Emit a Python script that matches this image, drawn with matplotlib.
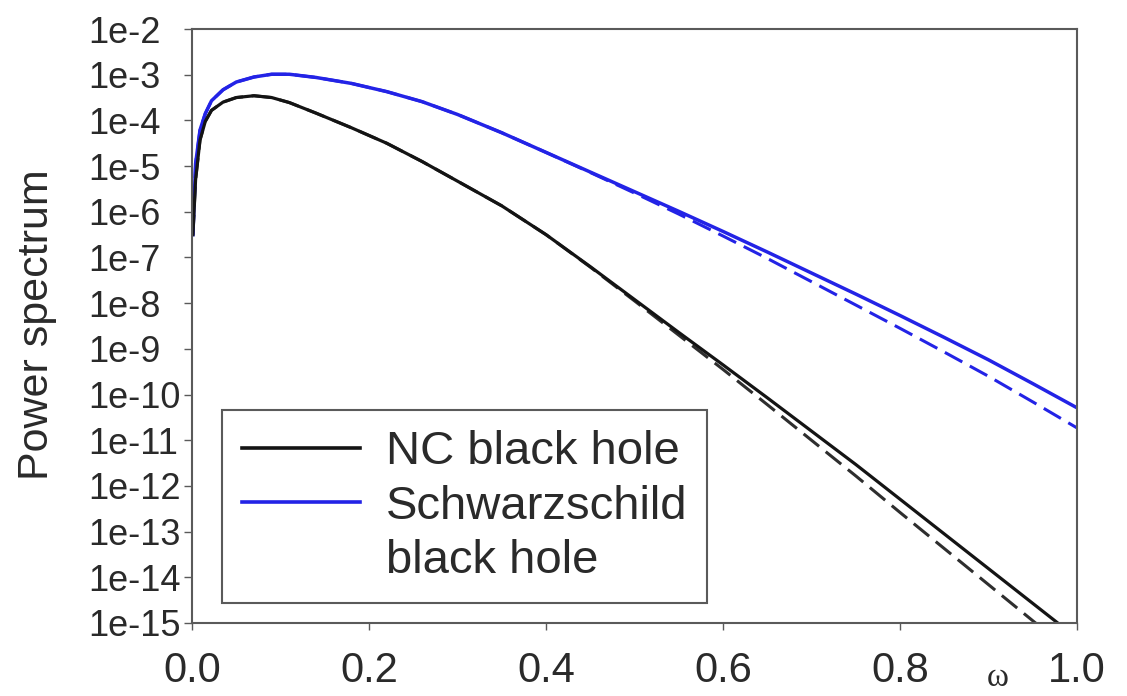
"""Hawking power spectrum of NC vs Schwarzschild black holes (log scale)."""
import matplotlib
matplotlib.use('Agg')
import matplotlib.pyplot as plt
from matplotlib.lines import Line2D
import numpy as np

plt.rcParams['font.family'] = ['Liberation Sans', 'DejaVu Sans']

# frequency grid shared by all curves
omega = [0.001, 0.004, 0.009, 0.015, 0.022, 0.035, 0.05, 0.07, 0.09, 0.11,
         0.14, 0.18, 0.22, 0.26, 0.30, 0.35, 0.40, 0.45, 0.50, 0.55,
         0.60, 0.65, 0.70, 0.75, 0.80, 0.85, 0.90, 0.95, 1.00]

# log10 of the power spectrum
nc_exact = [-6.50, -5.30, -4.43, -4.02, -3.78, -3.60, -3.50, -3.46, -3.50, -3.61,
            -3.84, -4.16, -4.50, -4.90, -5.33, -5.87, -6.50, -7.20, -7.92, -8.64,
            -9.35, -10.07, -10.80, -11.53, -12.29, -13.05, -13.81, -14.57, -15.33]
nc_approx = [-6.50, -5.30, -4.43, -4.02, -3.78, -3.60, -3.50, -3.46, -3.50, -3.61,
             -3.84, -4.16, -4.50, -4.90, -5.33, -5.87, -6.50, -7.21, -7.95, -8.70,
             -9.45, -10.22, -11.00, -11.78, -12.58, -13.37, -14.16, -14.95, -15.73]
schw_exact = [-6.50, -4.95, -4.21, -3.85, -3.57, -3.33, -3.16, -3.05, -2.99, -2.99,
              -3.06, -3.19, -3.37, -3.59, -3.87, -4.27, -4.70, -5.13, -5.56, -5.99,
              -6.43, -6.88, -7.34, -7.80, -8.27, -8.75, -9.24, -9.76, -10.29]
schw_approx = [-6.50, -4.95, -4.21, -3.85, -3.57, -3.33, -3.16, -3.05, -2.99, -2.99,
               -3.06, -3.19, -3.37, -3.59, -3.87, -4.27, -4.70, -5.14, -5.59, -6.05,
               -6.53, -7.02, -7.53, -8.04, -8.55, -9.07, -9.60, -10.16, -10.73]

y_exponents = list(range(-2, -16, -1))
y_labels = ['1e%d' % e for e in y_exponents]
x_ticks = [0.0, 0.2, 0.4, 0.6, 0.8, 1.0]
x_labels = ['0.0', '0.2', '0.4', '0.6', '0.8', '1.0']

BLACK = '#141414'
BLUE = '#2323e6'
GRAY = '#5a5a5a'
TEXT = '#2a2a2a'
DASH = (6.5, 2.8)

fig = plt.figure(figsize=(11.27, 6.96), dpi=100)
ax = fig.add_axes([0.1704, 0.1049, 0.7852, 0.8534])

w = np.array(omega)
ax.plot(w, 10.0 ** np.array(schw_approx), color=BLUE, lw=2.2, dashes=DASH)
ax.plot(w, 10.0 ** np.array(nc_approx), color='#2e2e2e', lw=2.2, dashes=DASH)
ax.plot(w, 10.0 ** np.array(schw_exact), color=BLUE, lw=2.5)
ax.plot(w, 10.0 ** np.array(nc_exact), color=BLACK, lw=2.3)

ax.set_yscale('log')
ax.set_xlim(0.0, 1.0)
ax.set_ylim(1e-15, 1e-2)

ax.set_yticks([10.0 ** e for e in y_exponents])
ax.set_yticklabels(y_labels)
ax.yaxis.set_minor_locator(matplotlib.ticker.NullLocator())
ax.set_xticks(x_ticks)
ax.set_xticklabels(x_labels)

ax.tick_params(axis='y', direction='out', length=6, width=1, color=GRAY,
               labelsize=26, labelcolor=TEXT, pad=69)
for lab in ax.get_yticklabels():
    lab.set_horizontalalignment('left')
ax.tick_params(axis='x', direction='out', length=5, width=1, color=GRAY,
               labelsize=30, labelcolor=TEXT, pad=15)

for sp in ax.spines.values():
    sp.set_color(GRAY)
    sp.set_linewidth(1.5)

fig.text(0.033, 0.533, 'Power spectrum', rotation=90, ha='center',
         va='center', fontsize=31, color=TEXT)
fig.text(0.8855, 0.026, '\u03c9', ha='center', va='center', fontsize=24,
         color=TEXT, family=['Liberation Serif', 'DejaVu Serif'])

handles = [Line2D([], [], color=BLACK, lw=2.6),
           Line2D([], [], color=BLUE, lw=2.6),
           Line2D([], [], color='none', lw=0)]
leg = ax.legend(handles, ['NC black hole', 'Schwarzschild', 'black hole'],
                loc='lower left', bbox_to_anchor=(0.034, 0.034),
                fontsize=34, frameon=True, fancybox=False, framealpha=1,
                handlelength=2.5, handletextpad=0.55, labelspacing=0.22,
                borderpad=0.42, borderaxespad=0)
leg.get_frame().set_edgecolor(GRAY)
leg.get_frame().set_linewidth(1.5)
for t in leg.get_texts():
    t.set_color(TEXT)

fig.savefig('out.png', dpi=100)
